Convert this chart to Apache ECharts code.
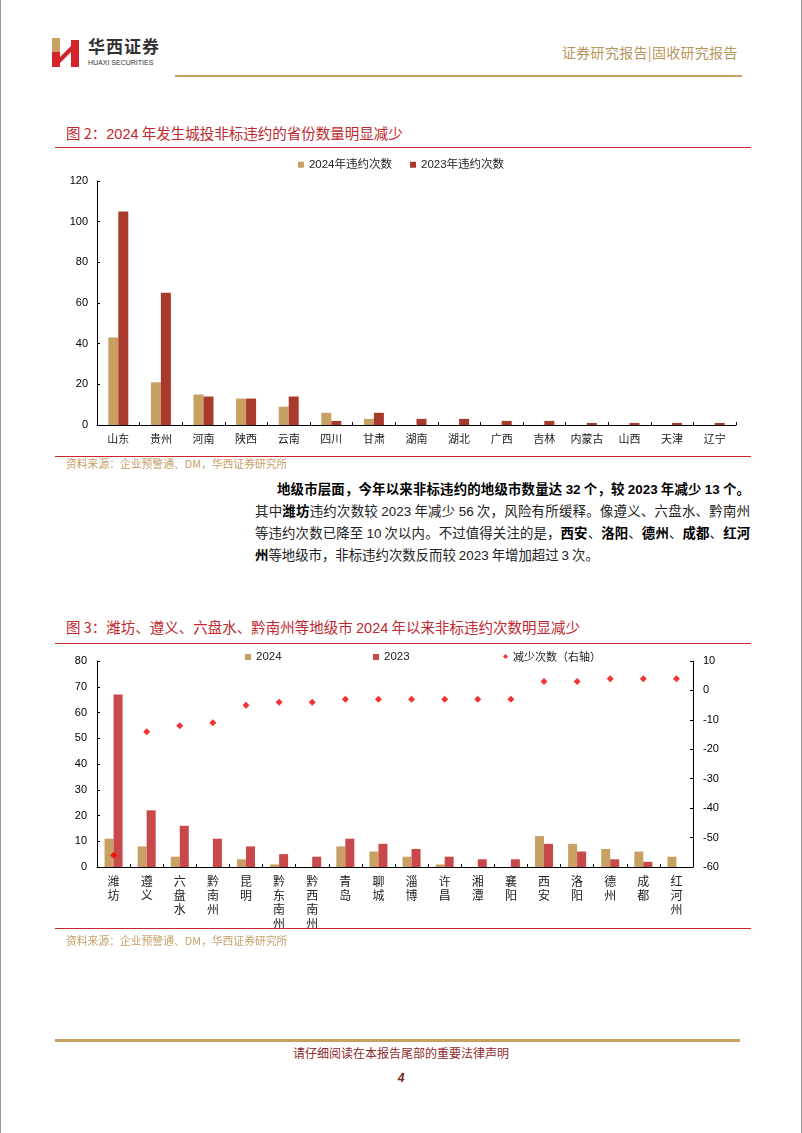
<!DOCTYPE html>
<html>
<head>
<meta charset="utf-8">
<script src="https://cdn.jsdelivr.net/npm/echarts@6/dist/echarts.min.js"></script>
<style>
  html,body{margin:0;padding:0;background:#fff;}
  body{width:802px;height:1133px;position:relative;overflow:hidden;font-family:"Noto Sans CJK SC","Liberation Sans",sans-serif;}
  .abs{position:absolute;}
  .edge{position:absolute;top:0;bottom:0;width:1px;background:#9a9a9a;}
  .title{position:absolute;left:66px;font-size:14.5px;color:#C0282E;line-height:18px;white-space:nowrap;}
  .title .num{font-family:"Liberation Sans",Arial,sans-serif;}
  .rline{position:absolute;left:55px;width:696px;height:1px;background:#C8272D;}
  .src{position:absolute;left:66px;font-size:10.8px;color:#C4A06A;line-height:14px;white-space:nowrap;}
  .para{position:absolute;font-size:13.4px;color:#222;line-height:18px;white-space:nowrap;text-align:justify;text-align-last:justify;}
  .para b{color:#000;}
  .para .n{font-family:"Liberation Sans",Arial,sans-serif;}
</style>
</head>
<body>
<div class="edge" style="left:0"></div>
<div class="edge" style="left:801px"></div>

<!-- header -->
<svg class="abs" style="left:50px;top:37px" width="30" height="31" viewBox="0 0 30 31">
  <rect x="2" y="1" width="8" height="14" fill="#C9A063"/>
  <rect x="2" y="15" width="8" height="15" fill="#D3242A"/>
  <polygon points="10,20 22,8 22,14 10,26" fill="#D3242A"/>
  <rect x="21" y="3" width="8" height="27" fill="#D3242A"/>
</svg>
<div class="abs" style="left:88px;top:36px;font-size:17px;font-weight:bold;color:#333;letter-spacing:1px;line-height:20px;">华西证券</div>
<div class="abs" style="left:88px;top:58px;font-size:7px;color:#333;line-height:9px;font-family:'Liberation Sans',Arial,sans-serif;">HUAXI SECURITIES</div>
<div class="abs" style="left:562px;top:43px;font-size:14px;color:#B8955A;line-height:18px;letter-spacing:0.3px;">证券研究报告|固收研究报告</div>
<div class="abs" style="left:175px;top:75px;width:567px;height:2px;background:#C9A063;"></div>

<!-- chart 1 -->
<div class="title" style="top:124px;">图 2：<span class="num">2024</span> 年发生城投非标违约的省份数量明显减少</div>
<div class="rline" style="top:147px;"></div>
<div id="c1" class="abs" style="left:0;top:150px;width:802px;height:305px;"></div>
<div class="rline" style="top:456px;"></div>
<div class="src" style="top:456px;">资料来源：企业预警通、DM，华西证券研究所</div>

<!-- paragraph -->
<div class="para" style="left:277px;top:479px;width:473px;"><b>地级市层面，今年以来非标违约的地级市数量达 <span class="n">32</span> 个，较 <span class="n">2023</span> 年减少 <span class="n">13</span> 个。</b></div>
<div class="para" style="left:255px;top:501px;width:495px;">其中<b>潍坊</b>违约次数较 <span class="n">2023</span> 年减少 <span class="n">56</span> 次，风险有所缓释。像遵义、六盘水、黔南州</div>
<div class="para" style="left:255px;top:523px;width:495px;">等违约次数已降至 <span class="n">10</span> 次以内。不过值得关注的是，<b>西安</b>、<b>洛阳</b>、<b>德州</b>、<b>成都</b>、<b>红河</b></div>
<div class="para" style="left:255px;top:545px;text-align:left;text-align-last:left;"><b>州</b>等地级市，非标违约次数反而较 <span class="n">2023</span> 年增加超过 <span class="n">3</span> 次。</div>

<!-- chart 2 -->
<div class="title" style="top:618px;">图 3：潍坊、遵义、六盘水、黔南州等地级市 <span class="num">2024</span> 年以来非标违约次数明显减少</div>
<div class="rline" style="top:643px;"></div>
<div id="c2" class="abs" style="left:0;top:640px;width:802px;height:300px;"></div>
<div class="rline" style="top:928px;"></div>
<div class="src" style="top:933px;">资料来源：企业预警通、DM，华西证券研究所</div>

<!-- footer -->
<div class="abs" style="left:55px;top:1039px;width:685px;height:3px;background:#C9A063;"></div>
<div class="abs" style="left:0;width:802px;top:1045px;text-align:center;font-size:12px;color:#8E2A2A;line-height:16px;">请仔细阅读在本报告尾部的重要法律声明</div>
<div class="abs" style="left:0;width:802px;top:1070px;text-align:center;font-size:12px;font-weight:bold;font-style:italic;color:#7B1F1F;line-height:16px;font-family:'Liberation Sans',Arial,sans-serif;">4</div>

<script>
// ---- data: chart 1 (provinces) ----
const provinces = ['山东','贵州','河南','陕西','云南','四川','甘肃','湖南','湖北','广西','吉林','内蒙古','山西','天津','辽宁'];
const prov2024 = [43,21,15,13,9,6,3,0,0,0,0,0,0,0,0];
const prov2023 = [105,65,14,13,14,2,6,3,3,2,2,1,1,1,1];
const provAxisTicks = {min:0, max:120, interval:20};

// ---- data: chart 2 (cities) ----
const cities = ['潍坊','遵义','六盘水','黔南州','昆明','黔东南州','黔西南州','青岛','聊城','淄博','许昌','湘潭','襄阳','西安','洛阳','德州','成都','红河州'];
const city2024 = [11,8,4,0,3,1,0,8,6,4,1,0,0,12,9,7,6,4];
const city2023 = [67,22,16,11,8,5,4,11,9,7,4,3,3,9,6,3,2,0];
const cityChange = [-56,-14,-12,-11,-5,-4,-4,-3,-3,-3,-3,-3,-3,3,3,4,4,4];
const leftAxisTicks = {min:0, max:80, interval:10};
const rightAxisTicks = {min:-60, max:10, interval:10};

const numFont = '"Liberation Sans", Arial, sans-serif';
const cjkFont = '"Noto Sans CJK SC", sans-serif';

const c1 = echarts.init(document.getElementById('c1'));
c1.setOption({
  animation:false,
  legend:{
    top:4, left:'center', itemWidth:6, itemHeight:6, itemGap:18,
    textStyle:{fontSize:11.5, color:'#222', fontFamily:numFont+','+cjkFont},
    data:[{name:'2024年违约次数', icon:'rect'},{name:'2023年违约次数', icon:'rect'}]
  },
  grid:{left:97, top:31, width:639, height:244, containLabel:false, outerBoundsMode:'none'},
  xAxis:{
    type:'category', data:provinces,
    axisLine:{lineStyle:{color:'#000', width:1}},
    axisTick:{show:true, inside:true, length:3, lineStyle:{color:'#000'}},
    axisLabel:{fontSize:11, color:'#222', margin:8, fontFamily:cjkFont, interval:0}
  },
  yAxis:{
    type:'value', min:provAxisTicks.min, max:provAxisTicks.max, interval:provAxisTicks.interval,
    axisLine:{show:true, lineStyle:{color:'#000', width:1}},
    axisTick:{show:true, inside:true, length:3, lineStyle:{color:'#000'}},
    splitLine:{show:false},
    axisLabel:{fontSize:11, color:'#000', margin:9, fontFamily:numFont}
  },
  series:[
    {name:'2024年违约次数', type:'bar', data:prov2024, barWidth:10, barGap:'0%', itemStyle:{color:'#C9A063'}},
    {name:'2023年违约次数', type:'bar', data:prov2023, barWidth:10, barGap:'0%', itemStyle:{color:'#A8392B'}}
  ]
});

const c2 = echarts.init(document.getElementById('c2'));
c2.setOption({
  animation:false,
  legend:[
    {left:240, top:6, itemWidth:6, itemHeight:6, textStyle:{fontSize:11.5, color:'#222', fontFamily:numFont}, data:[{name:'2024', icon:'rect'}]},
    {left:368, top:6, itemWidth:6, itemHeight:6, textStyle:{fontSize:11.5, color:'#222', fontFamily:numFont}, data:[{name:'2023', icon:'rect'}]},
    {left:498, top:6, itemWidth:5, itemHeight:5, textStyle:{fontSize:11, color:'#222', fontFamily:cjkFont}, data:[{name:'减少次数（右轴）', icon:'diamond'}]}
  ],
  grid:{left:97, top:21, width:596, height:206, containLabel:false, outerBoundsMode:'none'},
  xAxis:{
    type:'category', data:cities,
    axisLine:{lineStyle:{color:'#000', width:1}},
    axisTick:{show:true, inside:true, length:3, lineStyle:{color:'#000'}},
    axisLabel:{fontSize:12, color:'#222', margin:7, lineHeight:14, interval:0, fontFamily:cjkFont,
      formatter:v=>v.split('').join('\n')}
  },
  yAxis:[
    {type:'value', min:leftAxisTicks.min, max:leftAxisTicks.max, interval:leftAxisTicks.interval,
      axisLine:{show:true, lineStyle:{color:'#000'}},
      axisTick:{show:true, inside:true, length:3, lineStyle:{color:'#000'}},
      splitLine:{show:false},
      axisLabel:{fontSize:11, color:'#000', margin:10, fontFamily:numFont}},
    {type:'value', position:'right', min:rightAxisTicks.min, max:rightAxisTicks.max, interval:rightAxisTicks.interval,
      axisLine:{show:true, lineStyle:{color:'#000'}},
      axisTick:{show:true, inside:true, length:3, lineStyle:{color:'#000'}},
      splitLine:{show:false},
      axisLabel:{fontSize:11, color:'#000', margin:10, fontFamily:numFont}}
  ],
  series:[
    {name:'2024', type:'bar', data:city2024, barWidth:9, barGap:'0%', itemStyle:{color:'#C9A063'}},
    {name:'2023', type:'bar', data:city2023, barWidth:9, barGap:'0%', itemStyle:{color:'#C9484A'}},
    {name:'减少次数（右轴）', type:'scatter', yAxisIndex:1, data:cityChange, symbol:'diamond', symbolSize:7, itemStyle:{color:'#F00000'}}
  ]
});
</script>
</body>
</html>
